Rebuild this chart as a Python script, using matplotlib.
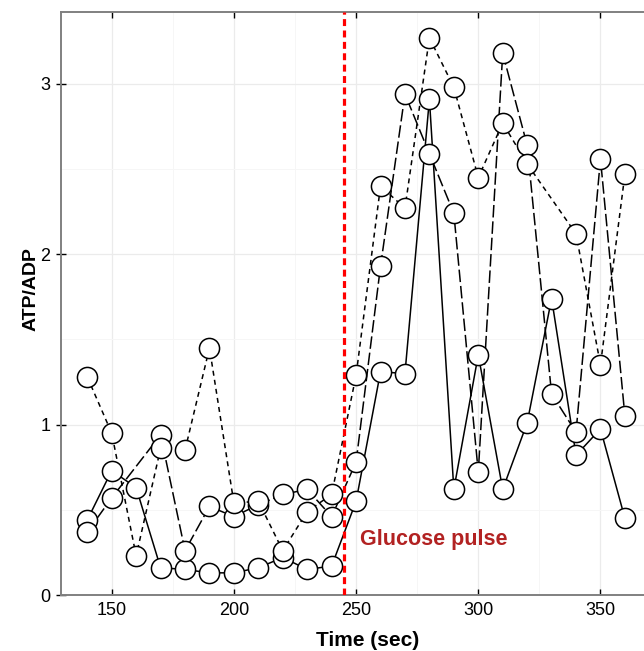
import matplotlib
matplotlib.use("Agg")
import matplotlib.pyplot as plt
from matplotlib.ticker import MultipleLocator

plt.rcParams['font.family'] = ['Liberation Sans', 'DejaVu Sans']
plt.rcParams['lines.scale_dashes'] = False

# --- data ---
t_solid = [140, 150, 160, 170, 180, 190, 200, 210, 220, 230, 240, 250,
           260, 270, 280, 290, 300, 310, 320, 330, 340, 350, 360]
y_solid = [0.44, 0.73, 0.63, 0.16, 0.15, 0.13, 0.13, 0.16, 0.22, 0.15, 0.17, 0.55,
           1.31, 1.30, 2.91, 0.62, 1.41, 0.62, 1.01, 1.74, 0.82, 0.975, 0.45]

t_long = [140, 150, 170, 180, 190, 200, 210, 220, 230, 240, 250,
          260, 270, 280, 290, 300, 310, 320, 330, 340, 350, 360]
y_long = [0.37, 0.57, 0.94, 0.26, 0.52, 0.46, 0.53, 0.59, 0.62, 0.46, 0.78,
          1.93, 2.94, 2.59, 2.24, 0.72, 3.18, 2.64, 1.18, 0.955, 2.56, 1.05]

t_short = [140, 150, 160, 170, 180, 190, 200, 210, 220, 230, 240, 250,
           260, 270, 280, 290, 300, 310, 320, 340, 350, 360]
y_short = [1.28, 0.95, 0.23, 0.86, 0.85, 1.45, 0.54, 0.55, 0.26, 0.49, 0.59, 1.29,
           2.40, 2.27, 3.27, 2.98, 2.45, 2.77, 2.53, 2.12, 1.35, 2.47]

pulse_time = 245
pulse_label = "Glucose pulse"
x_label = "Time (sec)"
y_label = "ATP/ADP"

fig = plt.figure(figsize=(6.44, 6.51), dpi=100)
ax = fig.add_axes([61/644, 56/651, (675-61)/644, (595-12.3)/651])

ax.set_xlim(129.25, 380.5)
ax.set_ylim(0, 3.42)

ax.xaxis.set_major_locator(MultipleLocator(50))
ax.xaxis.set_minor_locator(MultipleLocator(25))
ax.yaxis.set_major_locator(MultipleLocator(1))
ax.yaxis.set_minor_locator(MultipleLocator(0.5))
ax.grid(which='major', color='#EBEBEB', lw=0.9, zorder=0)
ax.grid(which='minor', color='#F6F6F6', lw=0.7, zorder=0)
ax.set_axisbelow(True)

series = [
    (t_solid, y_solid, dict(linestyle='-')),
    (t_long, y_long, dict(dashes=(9, 2.8))),
    (t_short, y_short, dict(dashes=(3.6, 3.0))),
]
for t, y, st in series:
    ax.plot(t, y, color='black', lw=1.1, zorder=2, **st)
for t, y, st in series:
    ax.plot(t, y, linestyle='none', marker='o', ms=14.5, mfc='white',
            mec='black', mew=1.1, zorder=3)

ax.axvline(pulse_time, color='#FF0000', lw=2.3, dashes=(5, 3.2), zorder=4)
ax.text(251.5, 0.325, pulse_label, color='#B22222', fontsize=15.5,
        fontweight='bold', ha='left', va='center', zorder=5)

for s in ['top', 'left', 'bottom', 'right']:
    ax.spines[s].set_color('#808080')
    ax.spines[s].set_linewidth(1.4)

ax.tick_params(axis='x', which='major', direction='in', length=4, width=1,
               color='black', labelsize=13, top=True, pad=5)
ax.tick_params(axis='y', which='major', direction='inout', length=7, width=1,
               color='black', labelsize=13, pad=4)
ax.tick_params(which='minor', length=0)

ax.set_xlabel(x_label, fontsize=15, fontweight='bold', labelpad=9)
ax.set_ylabel(y_label, fontsize=14, fontweight='bold')
ax.yaxis.set_label_coords(-21.5/614, 0.525)

fig.savefig('out.png', dpi=100)
